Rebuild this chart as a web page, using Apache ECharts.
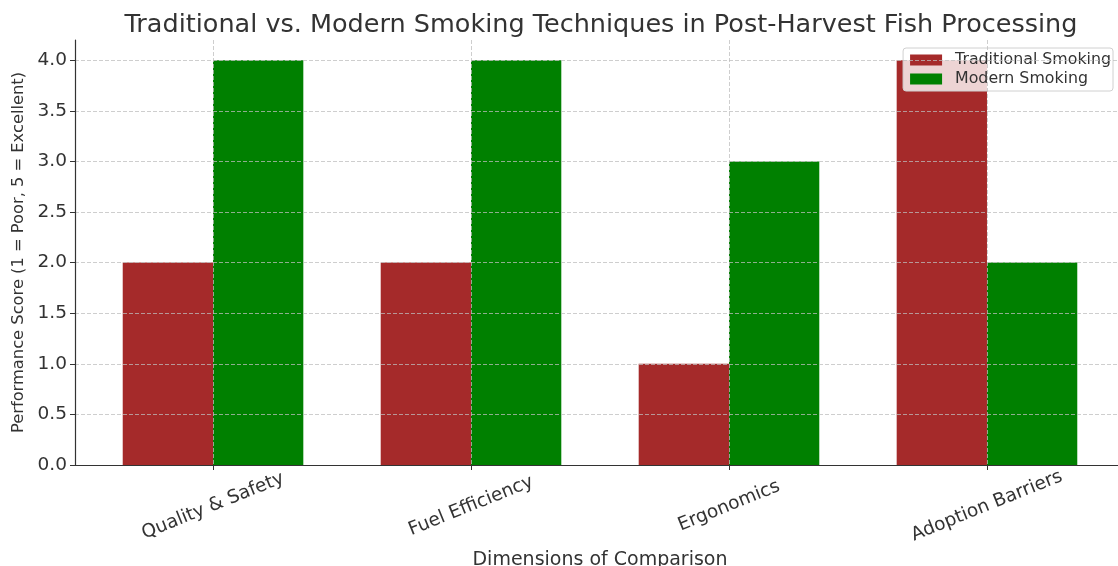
<!DOCTYPE html>
<html>
<head>
<meta charset="utf-8">
<title>Traditional vs. Modern Smoking Techniques</title>
<script src="https://cdn.jsdelivr.net/npm/echarts@6/dist/echarts.min.js"></script>
<style>
  html, body { margin: 0; padding: 0; background: #fff; }
  #chart { width: 1118px; height: 566px; }
</style>
</head>
<body>
<div id="chart"></div>
<script>
// Comparison dimensions and scores (1 = Poor, 5 = Excellent)
const categories = ['Quality & Safety', 'Fuel Efficiency', 'Ergonomics', 'Adoption Barriers'];
const traditionalScores = [2, 2, 1, 4];
const modernScores = [4, 4, 3, 2];
const yTickValues = [0, 0.5, 1, 1.5, 2, 2.5, 3, 3.5, 4];

const FONT = 'DejaVu Sans, Verdana, sans-serif';
const BAR_W = 0.35;       // bar width in category units
const categoryIdx = categories.map((_, i) => i);

// Side-by-side bars drawn on the numeric category position axis
function barRenderer(shift) {
  return function (params, api) {
    const i = api.value(0);
    const v = api.value(1);
    const topLeft = api.coord([i + shift, v]);
    const bottomRight = api.coord([i + shift + BAR_W, 0]);
    return {
      type: 'rect',
      shape: {
        x: topLeft[0],
        y: topLeft[1],
        width: bottomRight[0] - topLeft[0],
        height: bottomRight[1] - topLeft[1]
      },
      style: { fill: api.visual('color') }
    };
  };
}

const chart = echarts.init(document.getElementById('chart'), null, { renderer: 'canvas' });

const gridLine = { show: true, lineStyle: { color: 'rgba(190,190,190,0.75)', type: [4, 2], width: 1 } };

chart.setOption({
  animation: false,
  backgroundColor: '#fff',
  textStyle: { fontFamily: FONT },
  title: {
    text: 'Traditional vs. Modern Smoking Techniques in Post-Harvest Fish Processing',
    left: 596,
    textAlign: 'center',
    top: 7,
    textStyle: { fontFamily: FONT, fontSize: 25.5, fontWeight: 'normal', color: '#333' }
  },
  legend: {
    orient: 'vertical',
    right: 5,
    top: 48,
    padding: [4, 2, 4, 7],
    itemWidth: 32,
    itemHeight: 11,
    itemGap: 3,
    icon: 'rect',
    backgroundColor: 'rgba(255,255,255,0.8)',
    borderColor: '#d0d0d0',
    borderWidth: 1,
    borderRadius: 3,
    textStyle: { fontFamily: FONT, fontSize: 15.8, color: '#333', padding: [0, 0, 0, 8] },
    data: ['Traditional Smoking', 'Modern Smoking']
  },
  grid: {
    left: 75,
    right: -7,
    top: 40,
    bottom: 101,
    outerBoundsMode: 'none',
    containLabel: false
  },
  xAxis: {
    type: 'value',
    min: -0.535,
    max: 3.535,
    z: 5,
    name: 'Dimensions of Comparison',
    nameLocation: 'middle',
    nameGap: 80,
    nameTextStyle: { fontFamily: FONT, fontSize: 19, color: '#333' },
    axisLine: { show: true, onZero: false, lineStyle: { color: '#333', width: 1.2 } },
    axisTick: { show: true, length: 5, inside: false, customValues: categoryIdx, lineStyle: { color: '#333' } },
    axisLabel: {
      customValues: categoryIdx,
      formatter: v => categories[Math.round(v)],
      rotate: 22,
      align: 'center',
      verticalAlign: 'middle',
      margin: 41,
      fontFamily: FONT,
      fontSize: 18.5,
      color: '#333'
    },
    splitLine: gridLine
  },
  yAxis: {
    type: 'value',
    min: 0,
    max: 4.2,
    z: 5,
    name: 'Performance Score (1 = Poor, 5 = Excellent)',
    nameLocation: 'middle',
    nameGap: 46,
    nameTextStyle: { fontFamily: FONT, fontSize: 16.3, color: '#333' },
    axisLine: { show: true, onZero: false, lineStyle: { color: '#333', width: 1.2 } },
    axisTick: { show: true, length: 5, inside: false, customValues: yTickValues, lineStyle: { color: '#333' } },
    axisLabel: {
      customValues: yTickValues,
      formatter: v => v.toFixed(1),
      margin: 8,
      fontFamily: FONT,
      fontSize: 18.5,
      color: '#333'
    },
    splitLine: gridLine
  },
  series: [
    {
      name: 'Traditional Smoking',
      type: 'custom',
      z: 1,
      itemStyle: { color: '#a52a2a' },
      encode: { x: 0, y: 1 },
      renderItem: barRenderer(-BAR_W),
      data: traditionalScores.map((v, i) => [i, v])
    },
    {
      name: 'Modern Smoking',
      type: 'custom',
      z: 1,
      itemStyle: { color: '#008000' },
      encode: { x: 0, y: 1 },
      renderItem: barRenderer(0),
      data: modernScores.map((v, i) => [i, v])
    }
  ]
});
</script>
</body>
</html>
